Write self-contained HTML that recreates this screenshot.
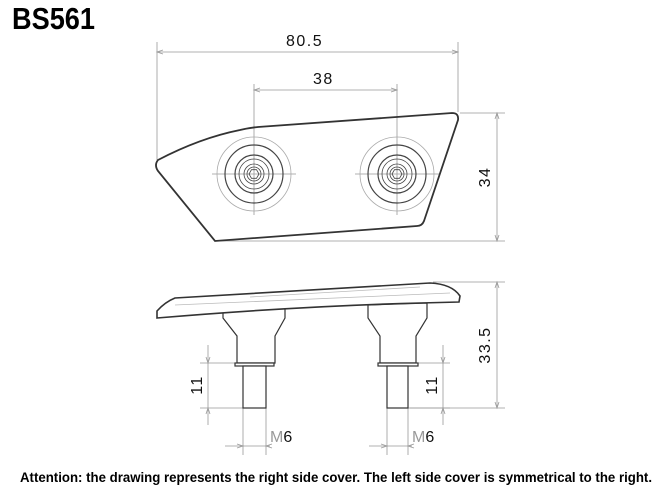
<!DOCTYPE html><html><head><style>body{margin:0;background:#fff}svg{display:block}</style></head><body>
<svg width="672" height="487" viewBox="0 0 672 487" xmlns="http://www.w3.org/2000/svg" font-family="Liberation Sans, sans-serif">
<text x="12" y="29" font-size="31" font-weight="bold" textLength="83" lengthAdjust="spacingAndGlyphs">BS561</text>
<g stroke="#999" stroke-width="0.8" fill="none">
<line x1="157" y1="42" x2="157" y2="160"/><line x1="458" y1="42" x2="458" y2="112"/>
<line x1="157" y1="52" x2="458" y2="52"/>
<line x1="254" y1="84" x2="254" y2="215"/><line x1="397" y1="84" x2="397" y2="215"/>
<line x1="254" y1="90" x2="397" y2="90"/>
<line x1="212" y1="174" x2="296" y2="174"/><line x1="355" y1="174" x2="439" y2="174"/>
<line x1="460" y1="113" x2="505" y2="113"/><line x1="215" y1="241" x2="505" y2="241"/>
<line x1="497" y1="113" x2="497" y2="241"/>
<line x1="433" y1="282" x2="505" y2="282"/><line x1="410" y1="408" x2="505" y2="408"/>
<line x1="497" y1="282" x2="497" y2="408"/>
<line x1="200" y1="363" x2="236" y2="363"/><line x1="200" y1="408" x2="243" y2="408"/>
<line x1="208" y1="345" x2="208" y2="425"/>
<line x1="416" y1="363" x2="450" y2="363"/><line x1="408" y1="408" x2="450" y2="408"/>
<line x1="443" y1="345" x2="443" y2="425"/>
<line x1="243" y1="408" x2="243" y2="455"/><line x1="266" y1="408" x2="266" y2="455"/>
<line x1="225" y1="446" x2="270" y2="446"/>
<line x1="387" y1="408" x2="387" y2="455"/><line x1="408" y1="408" x2="408" y2="455"/>
<line x1="369" y1="446" x2="412" y2="446"/>
</g>
<g stroke="#999" stroke-width="0.8" fill="none">
<path d="M163 50 L157 52 L163 54 M452 50 L458 52 L452 54 M260 88 L254 90 L260 92 M391 88 L397 90 L391 92 M495 119 L497 113 L499 119 M495 235 L497 241 L499 235 M495 288 L497 282 L499 288 M495 402 L497 408 L499 402 M206 357 L208 363 L210 357 M206 414 L208 408 L210 414 M441 357 L443 363 L445 357 M441 414 L443 408 L445 414 M237 444 L243 446 L237 448 M272 444 L266 446 L272 448 M381 444 L387 446 L381 448 M414 444 L408 446 L414 448"/>
</g>
<g font-size="16" fill="#111">
<text x="286" y="46" letter-spacing="1.5">80.5</text>
<text x="313" y="84" letter-spacing="1.5">38</text>
<text transform="translate(490,177) rotate(-90)" text-anchor="middle" letter-spacing="1.5">34</text>
<text transform="translate(490,345) rotate(-90)" text-anchor="middle" letter-spacing="1.5">33.5</text>
<text transform="translate(202,385) rotate(-90)" text-anchor="middle" letter-spacing="1.5">11</text>
<text transform="translate(437,385) rotate(-90)" text-anchor="middle" letter-spacing="1.5">11</text>
<text x="270" y="442"><tspan fill="#999">M</tspan>6</text>
<text x="412" y="442"><tspan fill="#999">M</tspan>6</text>
</g>
<path d="M158 160 Q200 138 240 130 Q248 128 258 127 L452 113 Q459 113 458 120 L424 221 Q422 226 417 226 L215 241 L158 171 Q154 165 158 160 Z" fill="none" stroke="#333" stroke-width="1.8"/>
<g fill="none" stroke="#444">
<g id="h"><circle cx="254" cy="174" r="37" stroke="#aaa" stroke-width="0.8"/><circle cx="254" cy="174" r="29" stroke-width="1.2"/><circle cx="254" cy="174" r="19" stroke-width="1.2"/><circle cx="254" cy="174" r="15" stroke-width="0.8"/><circle cx="254" cy="174" r="10" stroke-width="0.8"/><circle cx="254" cy="174" r="7" stroke-width="0.8"/><polygon points="259,174 256.5,178.3 251.5,178.3 249,174 251.5,169.7 256.5,169.7" stroke-width="0.8"/></g>
<use href="#h" x="143"/>
</g>
<g fill="#fff" stroke="#333" stroke-width="1.2">
<path d="M223 312 L285 308 L285 318 L275 336 L275 363 L237 363 L237 336 L223 318 Z"/>
<path d="M368 305 L427 303 L427 318 L416 336 L416 363 L380 363 L380 336 L368 318 Z"/>
<rect x="235" y="363" width="39" height="3"/><rect x="378" y="363" width="40" height="3"/>
<rect x="243" y="366" width="23" height="42"/><rect x="387" y="366" width="21" height="42"/>
<path d="M157 318 L157 311 Q165 302 175 298 L430 283 Q452 284 460 296 L459 302 L420 303 Q300 306 157 318 Z" stroke-width="1.6"/>
<path d="M175 305 L450 293" stroke="#bbb" stroke-width="0.8"/>
<path d="M250 297 L420 287" stroke="#bbb" stroke-width="0.8"/>
</g>
<text x="336" y="482" text-anchor="middle" font-size="14" font-weight="bold" textLength="632" lengthAdjust="spacingAndGlyphs">Attention: the drawing represents the right side cover. The left side cover is symmetrical to the right.</text>
</svg></body></html>
